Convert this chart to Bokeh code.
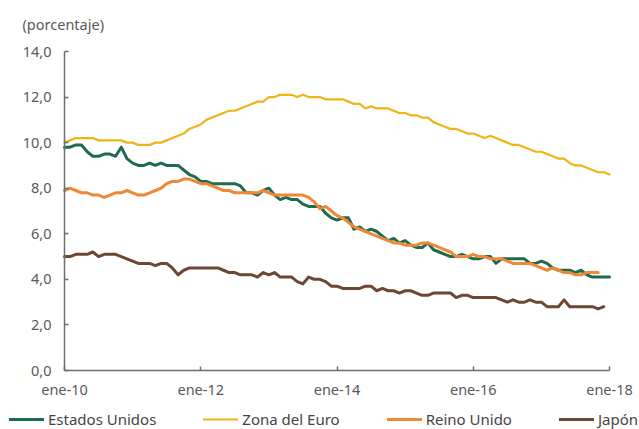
import numpy as np
from bokeh.plotting import figure
from bokeh.models import Range1d, FixedTicker, Legend, LegendItem, Label
from bokeh.embed import file_html
from bokeh.resources import INLINE

# ---------------- data ----------------
meses = ["ene", "feb", "mar", "abr", "may", "jun", "jul", "ago", "sep", "oct", "nov", "dic"]
anios = [2010, 2011, 2012, 2013, 2014, 2015, 2016, 2017, 2018]
fechas = [f"{m}-{str(a)[2:]}" for a in anios for m in meses][:97]   # ene-10 .. ene-18
tick_labels = ["ene-10", "ene-12", "ene-14", "ene-16", "ene-18"]
y_ticks = [0, 2, 4, 6, 8, 10, 12, 14]

estados_unidos = [
    9.8, 9.8, 9.9, 9.9, 9.6, 9.4, 9.4, 9.5, 9.5, 9.4, 9.8, 9.3,
    9.1, 9.0, 9.0, 9.1, 9.0, 9.1, 9.0, 9.0, 9.0, 8.8, 8.6, 8.5,
    8.3, 8.3, 8.2, 8.2, 8.2, 8.2, 8.2, 8.1, 7.8, 7.8, 7.7, 7.9,
    8.0, 7.7, 7.5, 7.6, 7.5, 7.5, 7.3, 7.2, 7.2, 7.2, 6.9, 6.7,
    6.6, 6.7, 6.7, 6.2, 6.3, 6.1, 6.2, 6.1, 5.9, 5.7, 5.8, 5.6,
    5.7, 5.5, 5.4, 5.4, 5.6, 5.3, 5.2, 5.1, 5.0, 5.0, 5.1, 5.0,
    4.9, 4.9, 5.0, 5.0, 4.7, 4.9, 4.9, 4.9, 4.9, 4.9, 4.7, 4.7,
    4.8, 4.7, 4.5, 4.4, 4.4, 4.4, 4.3, 4.4, 4.2, 4.1, 4.1, 4.1,
    4.1,
]
zona_euro = [
    10.0, 10.1, 10.2, 10.2, 10.2, 10.2, 10.1, 10.1, 10.1, 10.1, 10.1, 10.0,
    10.0, 9.9, 9.9, 9.9, 10.0, 10.0, 10.1, 10.2, 10.3, 10.4, 10.6, 10.7,
    10.8, 11.0, 11.1, 11.2, 11.3, 11.4, 11.4, 11.5, 11.6, 11.7, 11.8, 11.8,
    12.0, 12.0, 12.1, 12.1, 12.1, 12.0, 12.1, 12.0, 12.0, 12.0, 11.9, 11.9,
    11.9, 11.9, 11.8, 11.7, 11.7, 11.5, 11.6, 11.5, 11.5, 11.5, 11.4, 11.3,
    11.3, 11.2, 11.2, 11.1, 11.1, 10.9, 10.8, 10.7, 10.6, 10.6, 10.5, 10.4,
    10.4, 10.3, 10.2, 10.3, 10.2, 10.1, 10.0, 9.9, 9.9, 9.8, 9.7, 9.6,
    9.6, 9.5, 9.4, 9.3, 9.3, 9.1, 9.0, 9.0, 8.9, 8.8, 8.7, 8.7,
    8.6,
]
reino_unido = [
    7.9, 8.0, 7.9, 7.8, 7.8, 7.7, 7.7, 7.6, 7.7, 7.8, 7.8, 7.9,
    7.8, 7.7, 7.7, 7.8, 7.9, 8.0, 8.2, 8.3, 8.3, 8.4, 8.4, 8.3,
    8.2, 8.2, 8.1, 8.0, 7.9, 7.9, 7.8, 7.8, 7.8, 7.8, 7.8, 7.9,
    7.8, 7.7, 7.7, 7.7, 7.7, 7.7, 7.7, 7.6, 7.4, 7.1, 7.2, 7.0,
    6.8, 6.7, 6.5, 6.3, 6.2, 6.1, 6.0, 5.9, 5.8, 5.7, 5.6, 5.6,
    5.5, 5.5, 5.5, 5.6, 5.6, 5.5, 5.4, 5.3, 5.2, 5.0, 5.0, 5.0,
    5.1, 5.0, 5.0, 4.9, 4.9, 4.9, 4.8, 4.7, 4.7, 4.7, 4.7, 4.6,
    4.5, 4.4, 4.5, 4.4, 4.3, 4.3, 4.2, 4.2, 4.3, 4.3, 4.3,
]
japon = [
    5.0, 5.0, 5.1, 5.1, 5.1, 5.2, 5.0, 5.1, 5.1, 5.1, 5.0, 4.9,
    4.8, 4.7, 4.7, 4.7, 4.6, 4.7, 4.7, 4.5, 4.2, 4.4, 4.5, 4.5,
    4.5, 4.5, 4.5, 4.5, 4.4, 4.3, 4.3, 4.2, 4.2, 4.2, 4.1, 4.3,
    4.2, 4.3, 4.1, 4.1, 4.1, 3.9, 3.8, 4.1, 4.0, 4.0, 3.9, 3.7,
    3.7, 3.6, 3.6, 3.6, 3.6, 3.7, 3.7, 3.5, 3.6, 3.5, 3.5, 3.4,
    3.5, 3.5, 3.4, 3.3, 3.3, 3.4, 3.4, 3.4, 3.4, 3.2, 3.3, 3.3,
    3.2, 3.2, 3.2, 3.2, 3.2, 3.1, 3.0, 3.1, 3.0, 3.0, 3.1, 3.0,
    3.0, 2.8, 2.8, 2.8, 3.1, 2.8, 2.8, 2.8, 2.8, 2.8, 2.7, 2.8,
]

series = [
    ("Estados Unidos", estados_unidos, "#1f6b4e", 3),
    ("Zona del Euro", zona_euro, "#f0b414", 2.2),
    ("Reino Unido", reino_unido, "#ee8834", 3),
    ("Japón", japon, "#6d4636", 3),
]

FONT = "Noto Sans"
GRAY = "#595959"

# ---------------- layout (pixels) ----------------
W, H = 639, 429
PLOT_L, PLOT_R, PLOT_T, PLOT_B = 64, 609, 51, 370   # plot area edges in px

x_idx = list(range(len(fechas)))
x0, x1 = x_idx[0], x_idx[-1]
y0, y1 = y_ticks[0], y_ticks[-1]
sx = (PLOT_R - PLOT_L) / (x1 - x0)
sy = (PLOT_B - PLOT_T) / (y1 - y0)
x_range = Range1d(x0 - PLOT_L / sx, x1 + (W - PLOT_R) / sx)
y_range = Range1d(y0 - (H - PLOT_B) / sy, y1 + PLOT_T / sy)

p = figure(width=W, height=H, output_backend="svg", toolbar_location=None,
           title=None, x_range=x_range, y_range=y_range, min_border=0)
p.outline_line_color = None
p.xgrid.visible = False
p.ygrid.visible = False
p.background_fill_color = "white"
p.border_fill_color = "white"

items = []
for name, vals, color, lw in series:
    r = p.line(x_idx[:len(vals)], vals, line_color=color, line_width=lw,
               line_join="round", line_cap="round")
    items.append(LegendItem(label=name, renderers=[r]))

# axes, fixed at the data origin
tick_pos = [fechas.index(t) for t in tick_labels]
p.xaxis.fixed_location = y0
p.yaxis.fixed_location = x0
p.xaxis.bounds = (x0, x1)
p.yaxis.bounds = (y0, y1)
p.xaxis.ticker = FixedTicker(ticks=tick_pos)
p.xaxis.major_label_overrides = {i: fechas[i] for i in tick_pos}
p.yaxis.ticker = FixedTicker(ticks=y_ticks)
p.yaxis.major_label_overrides = {v: f"{v:.1f}".replace(".", ",") for v in y_ticks}

for ax in (p.xaxis, p.yaxis):
    ax.axis_line_color = "#6e6e6e"
    ax.axis_line_width = 1.5
    ax.major_tick_line_color = "#6e6e6e"
    ax.major_tick_line_width = 1.5
    ax.major_tick_in = 4
    ax.major_tick_out = 0
    ax.minor_tick_line_color = None
    ax.major_label_text_font = FONT
    ax.major_label_text_font_size = "14.5px"
    ax.major_label_text_color = GRAY
p.yaxis.major_label_standoff = 13
p.xaxis.major_label_standoff = 8

# unit label
p.add_layout(Label(x=22, y=H - 23, x_units="screen", y_units="screen",
                   text="(porcentaje)", text_font=FONT, text_font_size="14.5px",
                   text_color=GRAY, text_baseline="middle", text_align="left"))

legend = Legend(items=items, orientation="horizontal", location=(9, 0),
                glyph_width=35, glyph_height=16, label_height=16,
                label_standoff=4, spacing=47,
                padding=0, margin=0, label_text_font=FONT,
                label_text_font_size="15px", label_text_color="#454545",
                background_fill_alpha=0, border_line_color=None)
p.add_layout(legend, "center")

open("out.html", "w").write(file_html(p, INLINE))
